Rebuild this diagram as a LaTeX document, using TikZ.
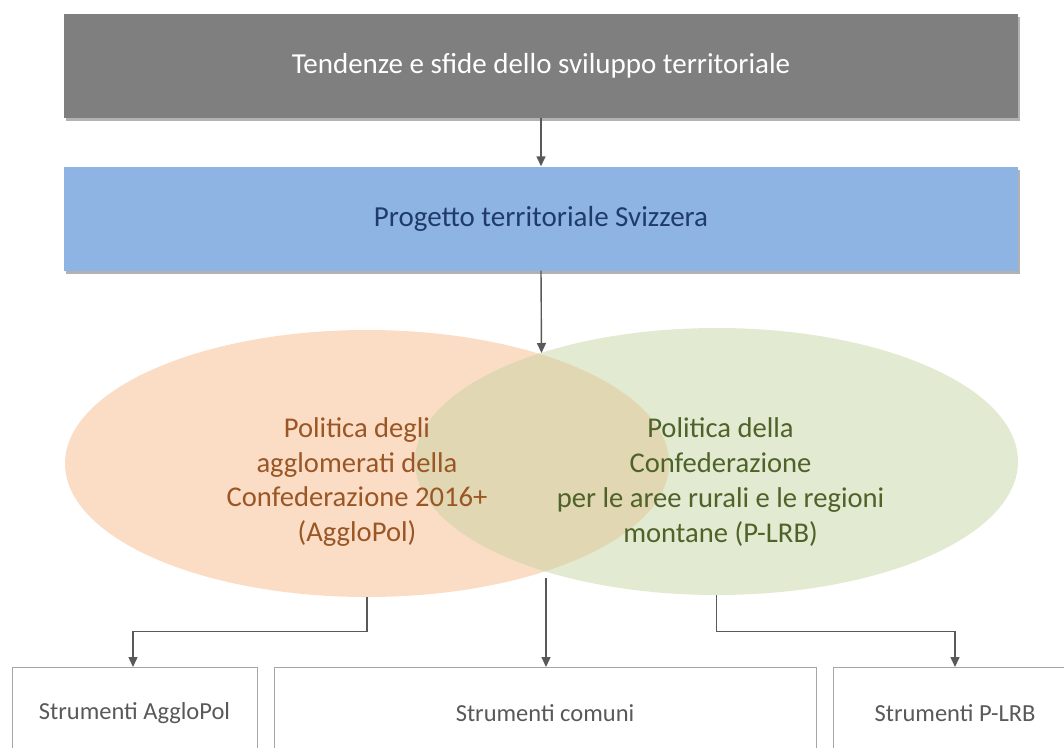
\documentclass[tikz,border=0pt]{standalone}
\usepackage{fontspec}
\setmainfont{Carlito}
\usetikzlibrary{shapes.geometric,shadows,arrows.meta}
\definecolor{boxgray}{HTML}{7F7F7F}
\definecolor{boxblue}{HTML}{8EB4E3}
\definecolor{txtblue}{HTML}{1F3B6B}
\definecolor{ellorange}{HTML}{FBDDC6}
\definecolor{ellgreen}{HTML}{E2EAD1}
\definecolor{elllens}{HTML}{E1D7B2}
\definecolor{txtbrown}{HTML}{9A5624}
\definecolor{txtgreen}{HTML}{4F6228}
\definecolor{linegray}{HTML}{595959}
\definecolor{framegray}{HTML}{A6A6A6}
\tikzset{
  bigbox/.style={rectangle, minimum width=954pt, minimum height=104pt, inner sep=0pt,
    drop shadow={shadow xshift=2pt, shadow yshift=-3pt, opacity=0.3, fill=black}},
  toolbox/.style={rectangle, draw=framegray, line width=0.8pt, fill=white, inner sep=0pt,
    minimum height=120pt},
  conn/.style={draw=linegray, line width=1.4pt, -{Triangle[length=10pt,width=9pt]}},
  elltext/.style={align=center, font=\fontsize{28.6}{34.7}\selectfont, inner sep=0pt},
  boxtext/.style={font=\fontsize{29}{34}\selectfont},
  tooltext/.style={font=\fontsize{24.5}{28}\selectfont, text=linegray}
}
\begin{document}
\begin{tikzpicture}[x=1pt,y=-1pt]
\useasboundingbox (0,0) rectangle (1064,747);
\clip (0,0) rectangle (1064,747);
% top boxes
\node[bigbox, fill=boxgray, text=white, boxtext] (trend) at (541,66) {Tendenze e sfide dello sviluppo territoriale};
\node[bigbox, fill=boxblue, text=txtblue, boxtext] (prog) at (541,218.5) {Progetto territoriale Svizzera};
% ellipses
\node[ellipse, fill=ellorange, minimum width=604pt, minimum height=267pt, inner sep=0pt] (L) at (367,463.5) {};
\node[ellipse, fill=ellgreen, minimum width=603pt, minimum height=267pt, inner sep=0pt] (R) at (716.5,461.5) {};
\begin{scope}
  \clip (367,463.5) ellipse [x radius=302, y radius=133.5];
  \fill[elllens] (716.5,461.5) ellipse [x radius=301.5, y radius=133.5];
\end{scope}
\coordinate (lenstop) at (541.5,353);
\coordinate (lensbot) at (546,578);
\node[elltext, text=txtbrown] (Ltext) at (357,482) {Politica degli\\agglomerati della\\Confederazione 2016+\\(AggloPol)};
\node[elltext, text=txtgreen] (Rtext) at (720.5,482) {Politica della\\Confederazione\\per le aree rurali e le regioni\\montane (P-LRB)};
% tool boxes
\node[toolbox, minimum width=245pt, anchor=north west] (tA) at (12,667) {};
\node[toolbox, minimum width=542pt, anchor=north west] (tC) at (274,667) {};
\node[toolbox, minimum width=260pt, anchor=north west] (tP) at (833,667) {};
\node[tooltext] (tAtext) at (134.5,713) {Strumenti AggloPol};
\node[tooltext] (tCtext) at (545,713) {Strumenti comuni};
\node[tooltext] (tPtext) at (955,713) {Strumenti P-LRB};
\coordinate (inA) at (133,667);
\coordinate (inP) at (955,667);
% connectors
\draw[conn] (trend.south) -- (prog.north);
\draw[conn] (prog.south) -- (lenstop);
\draw[conn] (L.south) -- ++(0,34) -| (inA);
\draw[conn] (lensbot) -- (lensbot |- tC.north);
\draw[conn] (R.south) -- ++(0,36) -| (inP);
\end{tikzpicture}
\end{document}
